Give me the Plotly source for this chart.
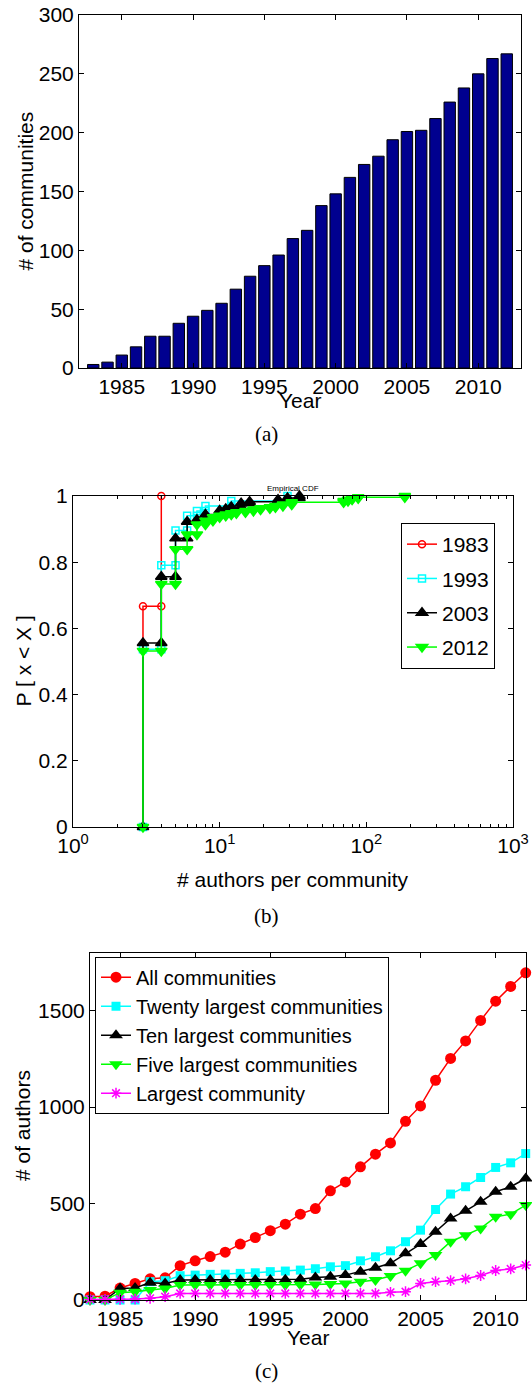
import plotly.graph_objects as go

W, H = 532, 1383
FONT = "Liberation Sans"

# ---------------- data ----------------
years = list(range(1983, 2013))
communities = [3, 5, 11, 18, 27, 27, 38, 44, 49, 55, 67, 78, 87, 96, 110, 117, 138,
               148, 162, 173, 180, 194, 201, 202, 212, 226, 238, 250, 263, 267]

cdf_years = ["1983", "1993", "2003", "2012"]
sizes_1983 = [3, 4]
cdf_1983 = [0.667, 1.0]
sizes_1993 = [3, 4, 5, 6, 7, 8, 12, 29]
cdf_1993 = [0.537, 0.791, 0.896, 0.940, 0.955, 0.970, 0.985, 1.0]
sizes_2003 = [3, 4, 5, 6, 7, 8, 10, 11, 12, 14, 16, 25, 29, 35]
cdf_2003 = [0.556, 0.756, 0.872, 0.922, 0.928, 0.944, 0.956, 0.961, 0.967,
            0.978, 0.983, 0.989, 0.994, 1.0]
sizes_2012 = [3, 4, 5, 6, 7, 8, 9, 10, 11, 12, 13, 15, 17, 19, 22, 24, 27, 31,
              70, 75, 80, 88, 183]
cdf_2012 = [0.532, 0.734, 0.839, 0.884, 0.914, 0.925, 0.936, 0.940, 0.944, 0.948,
            0.951, 0.955, 0.959, 0.963, 0.966, 0.970, 0.974, 0.981, 0.985, 0.989,
            0.993, 0.996, 1.0]

series_names = ["All communities", "Twenty largest communities", "Ten largest communities",
                "Five largest communities", "Largest community"]
authors_all = [17, 20, 62, 86, 110, 115, 178, 203, 225, 248, 290, 324, 359, 393, 445,
               474, 566, 612, 690, 756, 814, 926, 1006, 1139, 1252, 1343, 1449, 1549,
               1625, 1696]
authors_top20 = [0, 0, 0, 0, 95, 100, 126, 129, 133, 134, 138, 141, 147, 150, 155, 162,
                 172, 178, 203, 224, 255, 302, 362, 469, 549, 587, 635, 687, 711, 759]
authors_top10 = [0, 0, 60, 62, 90, 85, 104, 104, 104, 104, 104, 104, 104, 105, 107, 117,
                 121, 129, 147, 167, 190, 242, 290, 354, 423, 462, 509, 561, 587, 630]
authors_top5 = [0, 0, 38, 43, 52, 60, 78, 78, 78, 78, 78, 78, 78, 78, 79, 80, 83, 86,
                95, 104, 124, 152, 190, 233, 302, 336, 371, 431, 445, 492]
authors_largest = [3, 3, 4, 5, 9, 17, 34, 34, 34, 34, 34, 34, 34, 34, 34, 34, 34, 34,
                   34, 34, 40, 43, 86, 95, 100, 110, 127, 153, 161, 181]


def px_x(x):
    return x / W


def px_y(y):
    return 1 - y / H


def stairs(sizes, cdf):
    xs, ys = [sizes[0]], [0.0]
    prev = 0.0
    for s, c in zip(sizes, cdf):
        if xs[-1] != s or ys[-1] != prev:
            xs.append(s)
            ys.append(prev)
        xs.append(s)
        ys.append(c)
        prev = c
    return xs, ys


fig = go.Figure()

# ---------------- panel (a) ----------------
fig.add_trace(go.Bar(x=years, y=communities, width=0.8,
                     marker=dict(color="#00008F", line=dict(color="black", width=1)),
                     xaxis="x", yaxis="y", showlegend=False))

# ---------------- panel (b) ----------------
cdf_data = [(sizes_1983, cdf_1983), (sizes_1993, cdf_1993),
            (sizes_2003, cdf_2003), (sizes_2012, cdf_2012)]
cdf_styles = [
    dict(color="#FF0000", symbol="circle-open", size=7),
    dict(color="#00FFFF", symbol="square-open", size=7),
    dict(color="#000000", symbol="triangle-up", size=10),
    dict(color="#00FF00", symbol="triangle-down", size=10),
]
for name, (s, c), st in zip(cdf_years, cdf_data, cdf_styles):
    xs, ys = stairs(s, c)
    fig.add_trace(go.Scatter(
        x=xs, y=ys, mode="lines+markers", name=name,
        line=dict(color=st["color"], width=1.5),
        marker=dict(color=st["color"], symbol=st["symbol"], size=st["size"],
                    line=dict(color=st["color"], width=1.5)),
        xaxis="x2", yaxis="y2", legend="legend", legendgroup=name,
        cliponaxis=False))

# ---------------- panel (c) ----------------
c_data = [authors_all, authors_top20, authors_top10, authors_top5, authors_largest]
c_styles = [
    dict(color="#FF0000", symbol="circle", size=11),
    dict(color="#00FFFF", symbol="square", size=9),
    dict(color="#000000", symbol="triangle-up", size=12),
    dict(color="#00FF00", symbol="triangle-down", size=12),
    dict(color="#FF00FF", symbol="asterisk-open", size=9),
]
for name, vals, st in zip(series_names, c_data, c_styles):
    fig.add_trace(go.Scatter(
        x=years, y=vals, mode="lines+markers", name=name,
        line=dict(color=st["color"], width=1.5),
        marker=dict(color=st["color"], symbol=st["symbol"], size=st["size"],
                    line=dict(color=st["color"], width=1.5 if "open" in st["symbol"] else 0)),
        xaxis="x3", yaxis="y3", legend="legend2", cliponaxis=False))

axis_common = dict(showline=True, linecolor="black", linewidth=1, mirror="ticks",
                   ticks="inside", ticklen=5, tickcolor="black", showgrid=False,
                   zeroline=False, automargin=False,
                   tickfont=dict(family=FONT, size=21, color="black"))

fig.update_layout(
    width=W, height=H, margin=dict(l=0, r=0, t=0, b=0, autoexpand=False),
    paper_bgcolor="white", plot_bgcolor="white",
    font=dict(family=FONT, size=21, color="black"),
    bargap=0.2,
    xaxis=dict(domain=[px_x(79), px_x(521)], anchor="y", range=[1982, 2013],
               tickvals=[1985, 1990, 1995, 2000, 2005, 2010], **axis_common),
    yaxis=dict(domain=[px_y(368), px_y(15)], anchor="x", range=[0, 300],
               dtick=50, **axis_common),
    xaxis2=dict(domain=[px_x(73), px_x(513)], anchor="y2", type="log", range=[0, 3],
                tickvals=[1, 10, 100, 1000],
                ticktext=["10<sup>0</sup>", "10<sup>1</sup>", "10<sup>2</sup>", "10<sup>3</sup>"],
                minor=dict(ticks="inside", ticklen=3, tickcolor="black",
                           tickvals=[2, 3, 4, 5, 6, 7, 8, 9, 20, 30, 40, 50, 60, 70, 80, 90,
                                     200, 300, 400, 500, 600, 700, 800, 900]),
                **axis_common),
    yaxis2=dict(domain=[px_y(827), px_y(496)], anchor="x2", range=[0, 1],
                tickvals=[0, 0.2, 0.4, 0.6, 0.8, 1],
                ticktext=["0", "0.2", "0.4", "0.6", "0.8", "1"], **axis_common),
    xaxis3=dict(domain=[px_x(90), px_x(525.7)], anchor="y3", range=[1983, 2012],
                tickvals=[1985, 1990, 1995, 2000, 2005, 2010], **axis_common),
    yaxis3=dict(domain=[px_y(1300), px_y(952.7)], anchor="x3", range=[0, 1800],
                tickvals=[0, 500, 1000, 1500], **axis_common),
    legend=dict(x=px_x(495), xanchor="right", y=px_y(523), yanchor="top",
                bgcolor="white", bordercolor="black", borderwidth=1,
                font=dict(family=FONT, size=21, color="black"),
                tracegroupgap=4, traceorder="grouped"),
    legend2=dict(x=px_x(95), xanchor="left", y=px_y(956.7), yanchor="top",
                 bgcolor="white", bordercolor="black", borderwidth=1,
                 font=dict(family=FONT, size=20, color="black"),
                 tracegroupgap=0),
)

ann = []


def add_text(text, x, y, size=21, angle=0, family=FONT):
    ann.append(dict(text=text, x=px_x(x), y=px_y(y), xref="paper", yref="paper",
                    xanchor="center", yanchor="middle", showarrow=False,
                    textangle=angle, font=dict(family=family, size=size, color="black")))


add_text("# of communities", 25, 191.5, angle=-90)
add_text("Year", 300, 400)
add_text("(a)", 266, 434, size=21, family="Liberation Serif")
add_text("Empirical CDF", 293, 488, size=8)
add_text("P [ x &lt; X ]", 23, 661.5, angle=-90)
add_text("# authors per community", 293, 880)
add_text("(b)", 266, 916, size=21, family="Liberation Serif")
add_text("# of authors", 22, 1126, angle=-90)
add_text("Year", 308, 1337)
add_text("(c)", 266, 1371, size=21, family="Liberation Serif")
fig.update_layout(annotations=ann)

fig.write_html("out.html", config={"displayModeBar": False},
               post_script="document.body.style.margin='0';document.body.style.overflow='hidden';")
